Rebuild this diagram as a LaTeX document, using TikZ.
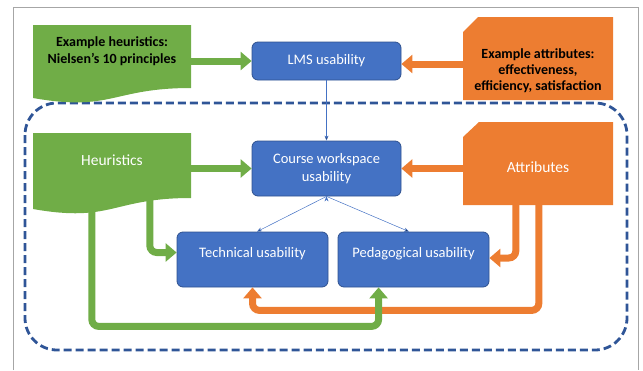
\documentclass[tikz,border=0pt]{standalone}
\usepackage{fontspec}
\setmainfont{Carlito}
\usepackage{tikz}
\usetikzlibrary{arrows.meta}
\definecolor{hgreen}{HTML}{70AD47}
\definecolor{aorange}{HTML}{ED7D31}
\definecolor{boxblue}{HTML}{4472C4}
\definecolor{boxedge}{HTML}{2F528F}
\definecolor{regionblue}{HTML}{2F5597}
\definecolor{framegray}{HTML}{A6A6A6}

\begin{document}
\begin{tikzpicture}[x=1pt, y=-1pt,
  usab/.style={draw=boxedge, fill=boxblue, line width=0.8pt, rounded corners=6pt,
    minimum width=149pt, text=white, align=center, font=\fontsize{14.5}{18}\selectfont},
  doctext/.style={inner sep=0pt, minimum width=158pt, align=center},
  attrtext/.style={inner sep=0pt, minimum width=150pt, align=center},
  fatgreen/.style={draw=hgreen, line width=7pt, rounded corners=7pt,
    -{Triangle[length=11pt,width=18pt]}},
  fatorange/.style={draw=aorange, line width=7pt, rounded corners=7pt,
    -{Triangle[length=11pt,width=18pt]}},
  thin/.style={draw=boxblue, line width=0.5pt, -{Stealth[length=5pt,width=4pt]}}]
  \useasboundingbox (0,0) rectangle (643,370);
  \draw[framegray, line width=0.8pt] (13,370) |- (638,7) -- (638,370);
  \draw[regionblue, line width=2.8pt, dash pattern=on 8pt off 4pt, rounded corners=32pt]
    (25,103) rectangle (627,350);

  % shapes
  \fill[hgreen] (33,25) -- (191,25) -- (191,88) .. controls (112,88) and (112,112) .. (33,98) -- cycle;
  \fill[aorange] (463,32) -- (478,17) -- (613,17) -- (613,100) -- (463,100) -- cycle;
  \fill[hgreen] (33,133) -- (191,133) -- (191,198) .. controls (112,198) and (112,223) .. (33,209) -- cycle;
  \fill[aorange] (463,137) -- (479,122) -- (613,122) -- (613,205) -- (463,205) -- cycle;

  \node[doctext, font=\bfseries\fontsize{14}{17}\selectfont] (exh) at (112,51.5)
    {Example heuristics:\\Nielsen's 10 principles};
  \node[attrtext, font=\bfseries\fontsize{14}{16}\selectfont] (exa) at (538,70.5)
    {Example attributes:\\effectiveness,\\efficiency, satisfaction};
  \node[doctext, text=white, font=\fontsize{15.5}{18}\selectfont] (heur) at (112,160) {Heuristics};
  \node[attrtext, text=white, font=\fontsize{15.5}{18}\selectfont] (attr) at (538,167) {Attributes};

  \node[usab, minimum height=38pt] (lms) at (326.5,61) {LMS usability};
  \node[usab, minimum height=55pt] (cw) at (326.5,168.5) {Course workspace\\usability};
  \node[usab, minimum height=55pt, minimum width=151pt, text depth=14pt] (tech) at (252.5,259.5) {Technical usability};
  \node[usab, minimum height=55pt, minimum width=151pt, text depth=14pt] (ped) at (413.5,259.5) {Pedagogical usability};

  \draw[fatgreen] (exh.east |- lms.west) -- (lms.west);
  \draw[fatorange] ([yshift=-3pt]exa.west |- lms.east) -- ([yshift=-3pt]lms.east);
  \draw[fatgreen] (heur.east |- cw.west) -- (cw.west);
  \draw[fatorange] (attr.west |- cw.east) -- (cw.east);

  \draw[fatorange] ([xshift=53pt]attr.south west) |- ([yshift=1.5pt]ped.east);
  \draw[fatorange] ([xshift=76pt]attr.south west) |- ([yshift=-23pt]tech.south) -- (tech.south);
  \draw[fatgreen] ([xshift=117pt]heur.south west) |- ([yshift=7pt]tech.west);
  \draw[fatgreen] ([xshift=59pt]heur.south west) |- ([xshift=41pt,yshift=-39pt]ped.south west)
    -- ([xshift=41pt]ped.south west);

  \path[thin]
  (lms) edge (cw)
  (cw.south) edge ([xshift=4.5pt]tech.north)
  (cw.south) edge ([xshift=-4.5pt]ped.north);
\end{tikzpicture}
\end{document}
